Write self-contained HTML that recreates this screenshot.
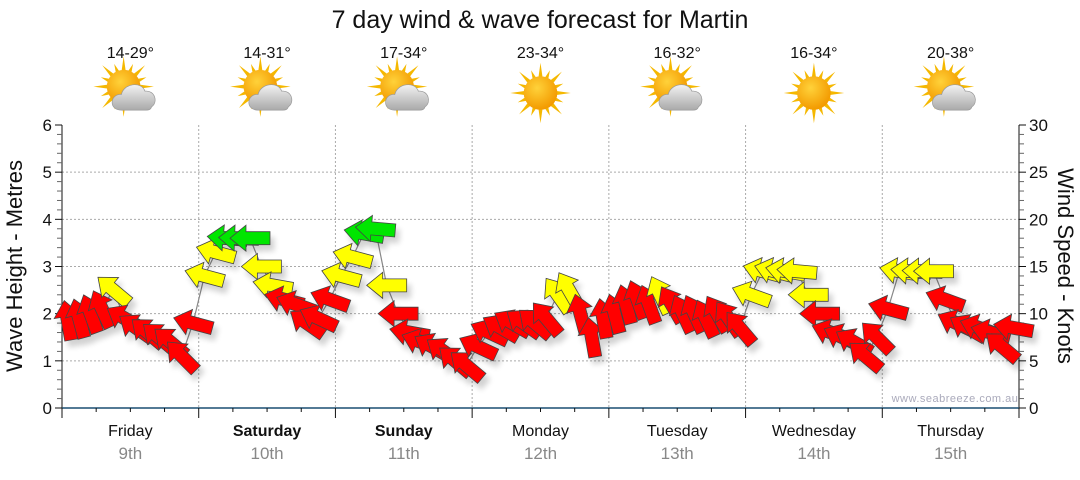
<!DOCTYPE html>
<html><head><meta charset="utf-8">
<style>
html,body{margin:0;padding:0;background:#fff;}
body{width:1080px;height:475px;overflow:hidden;font-family:"Liberation Sans","DejaVu Sans",sans-serif;}
</style></head>
<body>
<svg id="chart" width="1080" height="475" viewBox="0 0 1080 475" xmlns="http://www.w3.org/2000/svg">
<defs>
<radialGradient id="sunG" cx="40%" cy="35%" r="65%"><stop offset="0" stop-color="#ffd23a"/><stop offset="1" stop-color="#f39a00"/></radialGradient>
<linearGradient id="cloudG" x1="0" y1="0" x2="0" y2="1"><stop offset="0" stop-color="#f2f2f2"/><stop offset="1" stop-color="#a9a9a9"/></linearGradient>
<filter id="sh" x="-50%" y="-50%" width="200%" height="200%"><feGaussianBlur in="SourceAlpha" stdDeviation="3"/><feOffset dx="4" dy="6"/><feComponentTransfer><feFuncA type="linear" slope="0.18"/></feComponentTransfer><feMerge><feMergeNode/><feMergeNode in="SourceGraphic"/></feMerge></filter>
</defs>
<text x="540" y="28" text-anchor="middle" font-size="25" fill="#111">7 day wind &amp; wave forecast for Martin</text>
<g id="axes"></g>
<g id="icons"></g>
<g id="marks"></g>
<text x="955" y="402" text-anchor="middle" font-size="11" fill="#aab" letter-spacing="0.5">www.seabreeze.com.au</text>
<text transform="translate(22,266) rotate(-90)" text-anchor="middle" font-size="22" fill="#111">Wave Height - Metres</text>
<text transform="translate(1058,266) rotate(90)" text-anchor="middle" font-size="22" fill="#111">Wind Speed - Knots</text>
</svg>
<script>
const days = ["Friday","Saturday","Sunday","Monday","Tuesday","Wednesday","Thursday"];
const dates = ["9th","10th","11th","12th","13th","14th","15th"];
const boldDays = [false,true,true,false,false,false,false];
const temps = ["14-29°","14-31°","17-34°","23-34°","16-32°","16-34°","20-38°"];
const cloudy = [true,true,true,false,true,false,true];
const waveTicks = [0,1,2,3,4,5,6];
const windTicks = [0,5,10,15,20,25,30];
// wind speed (knots) every 2 hours
const windSpeed = [
9.3,9.5,10,10.5,12.5,9.5,8.5,8,7.5,7,5.5,9,
14,16.5,18,18,18,15,13,11.5,11,9,9.5,11.5,
14,16,18.5,19,13,10,8,7,6.5,6,5,4.5,
6.5,8,8.5,9,9,9,9.5,12,12.5,10,7.5,9.5,
10,11,11.5,11,12,11,10,10,9.5,10,9.5,8.5,
12,14.5,14.5,14.5,14.5,12,10,8,7.5,7,5.5,7.5,
10.5,14.5,14.5,14.5,14.5,11.5,9,8.5,8.5,8,6.5,8.5];
// arrow pointing direction (screen degrees, 180 = left, 90 = up)
const windDir = [
100,105,110,115,140,150,145,140,140,140,135,165,
165,165,175,178,180,180,170,165,160,145,155,160,
165,165,170,175,180,180,170,160,150,145,140,140,
155,155,150,150,145,140,130,125,120,105,100,100,
105,105,110,110,115,120,115,115,115,120,125,130,
160,165,165,170,175,180,180,160,155,150,140,135,
165,170,175,178,180,160,155,150,160,165,140,170];

const NS="http://www.w3.org/2000/svg";
const X0=62,X1=1019,Y0=408,YT=125;
const dayW=(X1-X0)/7;
const yWave=m=>Y0-(m/6)*(Y0-YT);
const yWind=k=>Y0-(k/30)*(Y0-YT);
const xSlot=i=>X0+(i+0.5)*(X1-X0)/windSpeed.length;
function mk(tag,attrs,parent){const e=document.createElementNS(NS,tag);for(const k in attrs)e.setAttribute(k,attrs[k]);parent.appendChild(e);return e;}
const axes=document.getElementById('axes');
for(let m=1;m<=5;m++){
 const g=mk('line',{x1:X0,x2:X1,y1:yWave(m),y2:yWave(m),stroke:'#aaa','stroke-dasharray':'2,2'},axes);
 
 
}
for(let d=1;d<7;d++){
 const x=X0+d*dayW;
 const g=mk('line',{x1:x,x2:x,y1:YT,y2:Y0,stroke:'#aaa','stroke-dasharray':'2,2'},axes);
 
 
}
let la=mk('line',{x1:X0,x2:X0,y1:YT,y2:Y0,stroke:'#111'},axes);


for(let t=0;t<=30;t++){
 const y=yWave(t/5);
 mk('line',{x1:X0-(t%5?5:7),x2:X0,y1:y,y2:y,stroke:t%5?'#666':'#111'},axes);
}
waveTicks.forEach(v=>{
 const t=mk('text',{x:X0-10,y:yWave(v)+6,'text-anchor':'end','font-size':17,fill:'#111'},axes);
 t.textContent=v;
 
 
});
let ra=mk('line',{x1:X1,x2:X1,y1:YT,y2:Y0,stroke:'#111'},axes);


for(let k=0;k<=30;k++){
 const y=yWind(k);
 mk('line',{x1:X1,x2:X1+(k%5?5:7),y1:y,y2:y,stroke:k%5?'#666':'#111'},axes);
}
windTicks.forEach(v=>{
 const t=mk('text',{x:X1+10,y:yWind(v)+6,'text-anchor':'start','font-size':17,fill:'#111'},axes);
 t.textContent=v;
 
 
});
let ba=mk('line',{x1:X0,x2:X1,y1:Y0,y2:Y0,stroke:'#1a4f72','stroke-width':1.5},axes);


for(let i=0;i<=28;i++){
 const x=X0+i*dayW/4;
 mk('line',{x1:x,x2:x,y1:Y0,y2:Y0+(i%4?4:10),stroke:'#111'},axes);
}
const icons=document.getElementById('icons');
days.forEach((d,i)=>{
 const cx=X0+(i+0.5)*dayW;
 const t=mk('text',{x:cx,y:436,'text-anchor':'middle','font-size':16,fill:'#111','font-weight':boldDays[i]?'bold':'normal'},axes);
 t.textContent=d;
 
 
 const t2=mk('text',{x:cx,y:459,'text-anchor':'middle','font-size':17,fill:'#888'},axes);
 t2.textContent=dates[i];
 
 
 const t3=mk('text',{x:cx,y:58,'text-anchor':'middle','font-size':16,fill:'#111'},icons);
 t3.textContent=temps[i];
 
 
 const g=mk('g',{transform:`translate(${cx},${cloudy[i]?90:93}) scale(1.12)`},icons);
 
 
 const sx=cloudy[i]?-6:0, sy=cloudy[i]?-3:0;
 for(let r=0;r<16;r++){
  const a=r*Math.PI/8, L=r%2?22:27;
  const p1=[sx+Math.cos(a)*L,sy+Math.sin(a)*L],q1=[sx+Math.cos(a+0.18)*12,sy+Math.sin(a+0.18)*12],q2=[sx+Math.cos(a-0.18)*12,sy+Math.sin(a-0.18)*12];
  mk('polygon',{points:`${p1} ${q1} ${q2}`,fill:'#f5b800'},g);
 }
 mk('circle',{cx:sx,cy:sy,r:15,fill:'url(#sunG)'},g);
 if(cloudy[i]){
  mk('path',{d:'M-8,18 C-20,18 -18,3 -8,4 C-6,-6 10,-8 13,1 C22,0 25,11 19,15 C18,18 16,18 14,18 Z',fill:'url(#cloudG)',stroke:'#999','stroke-width':0.6},g);
 }
});
const marks=document.getElementById('marks');
const pts=windSpeed.map((k,i)=>[xSlot(i),yWind(k)]);
const line=mk('polyline',{points:pts.map(p=>p.join(',')).join(' '),fill:'none',stroke:'#888','stroke-width':1.2},marks);


const ag=mk('g',{filter:'url(#sh)'},marks);
windSpeed.forEach((k,i)=>{
 const col=k<11.8?'#ff0000':(k<17.8?'#ffff00':'#00e600');
 const rot=180-windDir[i];
 const a=mk('polygon',{points:'-20,0 -4,-13 -4,-6.5 20,-6.5 20,6.5 -4,6.5 -4,13',fill:col,stroke:'#444','stroke-width':0.8,
  transform:`translate(${pts[i][0]},${pts[i][1]}) rotate(${rot})`},ag);
 
 
});
</script>
</body></html>
